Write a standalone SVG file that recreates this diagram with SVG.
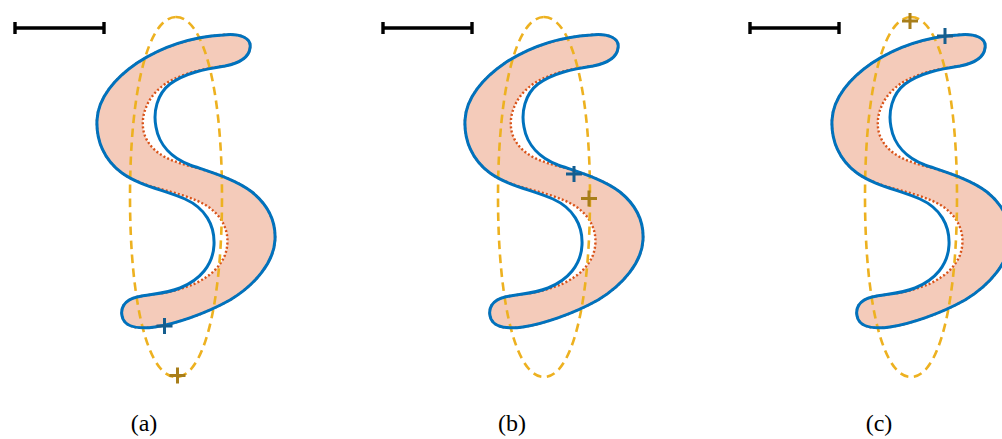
<svg xmlns="http://www.w3.org/2000/svg" xmlns:xlink="http://www.w3.org/1999/xlink" width="1002" height="439" viewBox="0 0 1002 439">
<style>
.fill{fill:#F4CBBA;stroke:none}
.dot{fill:none;stroke:#D95319;stroke-width:2.4;stroke-dasharray:2 2.2}
.dash{fill:none;stroke:#EDB120;stroke-width:2.6;stroke-dasharray:8.5 5.5}
.blue{fill:none;stroke:#0072BD;stroke-width:3;stroke-linejoin:round}
.bar{fill:none;stroke:#000;stroke-width:3.4}
.pb{fill:none;stroke:#155E8F;stroke-width:3}
.po{fill:none;stroke:#A87E1A;stroke-width:3}
.lbl{font-family:"Liberation Serif","Times New Roman",serif;font-size:24px;fill:#000;text-anchor:middle}
</style>
<defs>
<path id="red" d="M223,35 C240,33 252,38 250,48 C249,57 240,63 225,66 C200,69 175,75 160,88 C146,100 140,118 144,133 C149,150 165,160 190,166 C212,172 235,179 252,192 C268,205 276,222 275,240 C274,262 255,285 230,300 C205,314 175,324 155,327 C140,329 127,328 123,319 C119,309 124,300 137,297 C150,294 165,294 180,289 C201,283 218,272 225,255 C231,238 226,220 210,208 C195,197 170,192 150,186 C138,182 128,178 122,173 C104,160 96,140 97,120 C98,98 115,78 137,63 C160,48 190,37 223,35 Z"/>
<path id="outline" d="M223,35 C240,33 252,38 250,48 C249,57 240,63 225,66 C205,69 185,73 170,84 C157,94 153,112 156,127 C159,145 172,158 190,165 C210,172 235,179 252,192 C268,205 276,222 275,240 C274,262 255,285 230,300 C205,314 175,324 155,327 C140,329 127,328 123,319 C119,309 124,300 137,297 C150,294 165,294 180,288 C200,280 213,265 214,245 C215,225 205,208 185,199 C165,190 140,186 122,173 C104,160 96,140 97,120 C98,98 115,78 137,63 C160,48 190,37 223,35 Z"/>
<path id="ell" d="M176,17 C203.6,17 222,89 222,197 C222,305 203.6,377 176,377 C148.4,377 130,305 130,197 C130,89 148.4,17 176,17 Z"/>
<path id="bar" d="M15,28 H104 M15,22 V34 M104,22 V34"/>
<path id="plus" d="M-8,0 H8 M0,-8 V8"/>
</defs>
<g id="panel-a">
<use xlink:href="#red" class="fill"/>
<use xlink:href="#red" class="dot"/>
<use xlink:href="#ell" class="dash"/>
<use xlink:href="#outline" class="blue"/>
<use xlink:href="#bar" class="bar"/>
<use xlink:href="#plus" class="pb" x="164.5" y="326"/>
<use xlink:href="#plus" class="po" x="177.5" y="375.5"/>
<text class="lbl" x="144" y="431">(a)</text>
</g>
<g id="panel-b" transform="translate(368,0)">
<use xlink:href="#red" class="fill"/>
<use xlink:href="#red" class="dot"/>
<use xlink:href="#ell" class="dash"/>
<use xlink:href="#outline" class="blue"/>
<use xlink:href="#bar" class="bar"/>
<use xlink:href="#plus" class="pb" x="206" y="174"/>
<use xlink:href="#plus" class="po" x="221" y="198.5"/>
<text class="lbl" x="144" y="431">(b)</text>
</g>
<g id="panel-c" transform="translate(735,0)">
<use xlink:href="#red" class="fill"/>
<use xlink:href="#red" class="dot"/>
<use xlink:href="#ell" class="dash"/>
<use xlink:href="#outline" class="blue"/>
<use xlink:href="#bar" class="bar"/>
<use xlink:href="#plus" class="po" x="175" y="21"/>
<use xlink:href="#plus" class="pb" x="210" y="36"/>
<text class="lbl" x="144" y="431">(c)</text>
</g>
</svg>
